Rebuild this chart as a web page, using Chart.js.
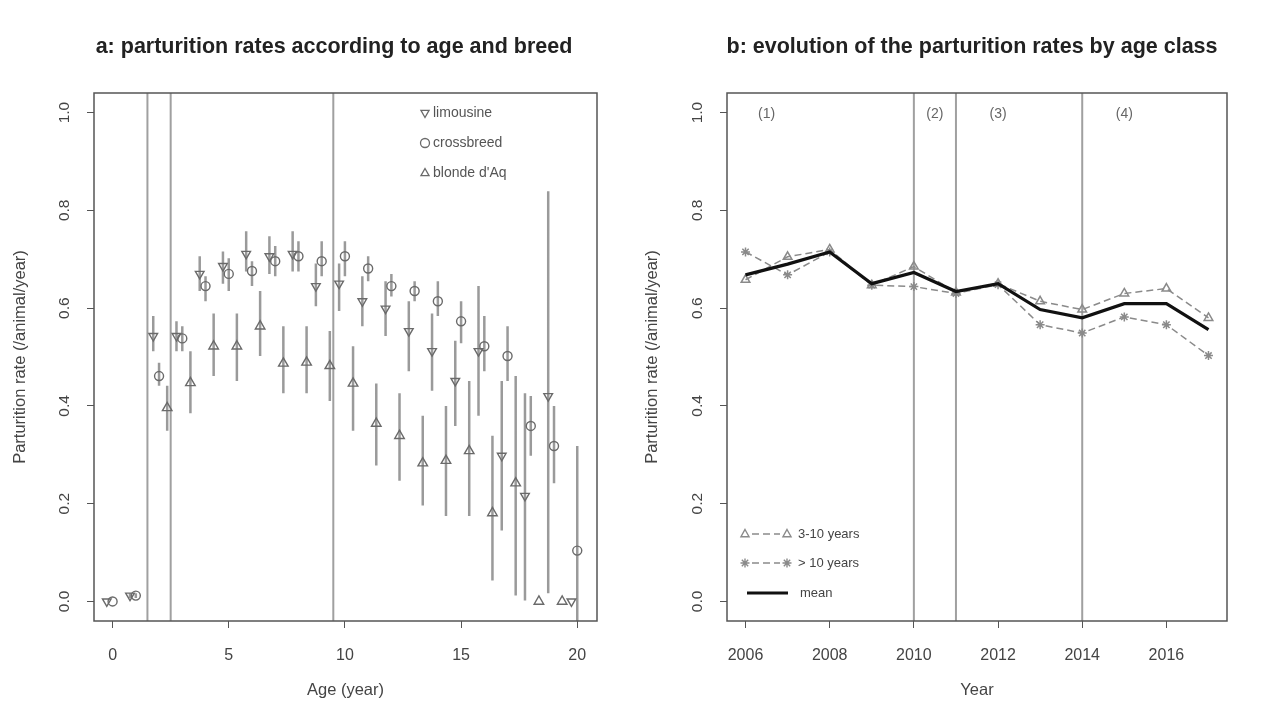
<!DOCTYPE html>
<html>
<head>
<meta charset="utf-8">
<script src="https://cdn.jsdelivr.net/npm/chart.js@4.4.1/dist/chart.umd.min.js"></script>
<style>
body { margin: 0; background: #fff; }
#wrap { position: relative; width: 1268px; height: 711px; }
.panel { position: absolute; top: 0; width: 634px; height: 711px; }
</style>
</head>
<body>
<div id="wrap">
  <div class="panel" style="left:0"><canvas id="chartA" width="634" height="711"></canvas></div>
  <div class="panel" style="left:634px"><canvas id="chartB" width="634" height="711"></canvas></div>
</div>
<script>
// ---- panel a: parturition rate by age and breed ----
const ages = [0, 1, 2, 3, 4, 5, 6, 7, 8, 9, 10, 11, 12, 13, 14, 15, 16, 17, 18, 19, 20];

const limRate  = [0, 0.012, 0.543, 0.543, 0.670, 0.686, 0.711, 0.706, 0.711, 0.645, 0.650, 0.614, 0.599, 0.553, 0.512, 0.451, 0.512, 0.298, 0.216, 0.420, 0];
const limLow   = [0, 0.007, 0.512, 0.512, 0.635, 0.650, 0.675, 0.670, 0.675, 0.604, 0.594, 0.563, 0.543, 0.471, 0.431, 0.359, 0.380, 0.145, 0.002, 0.017, 0];
const limHigh  = [0, 0.017, 0.584, 0.573, 0.706, 0.716, 0.757, 0.747, 0.757, 0.691, 0.691, 0.665, 0.655, 0.614, 0.589, 0.533, 0.645, 0.451, 0.426, 0.839, 0];

const crossRate = [0, 0.012, 0.461, 0.538, 0.645, 0.670, 0.676, 0.696, 0.706, 0.696, 0.706, 0.681, 0.645, 0.635, 0.614, 0.573, 0.522, 0.502, 0.359, 0.318, 0.104];
const crossLow  = [0, 0.007, 0.441, 0.512, 0.614, 0.635, 0.645, 0.665, 0.675, 0.665, 0.665, 0.655, 0.624, 0.614, 0.584, 0.528, 0.471, 0.451, 0.298, 0.242, -0.04];
const crossHigh = [0, 0.017, 0.488, 0.563, 0.665, 0.702, 0.696, 0.727, 0.737, 0.737, 0.737, 0.706, 0.670, 0.655, 0.655, 0.614, 0.584, 0.563, 0.420, 0.400, 0.318];

const blondeRate = [null, null, 0.396, 0.447, 0.522, 0.522, 0.563, 0.487, 0.489, 0.482, 0.446, 0.364, 0.339, 0.283, 0.288, 0.308, 0.181, 0.242, 0, 0, null];
const blondeLow  = [null, null, 0.349, 0.385, 0.461, 0.451, 0.502, 0.426, 0.426, 0.410, 0.349, 0.278, 0.247, 0.196, 0.175, 0.175, 0.043, 0.012, 0, 0, null];
const blondeHigh = [null, null, 0.441, 0.512, 0.589, 0.589, 0.635, 0.563, 0.563, 0.553, 0.522, 0.446, 0.426, 0.380, 0.400, 0.451, 0.339, 0.461, 0, 0, null];

const ageTicks = [0, 5, 10, 15, 20];
const ageBreaks = [1.5, 2.5, 9.5];

// ---- panel b: evolution by age class ----
const years = [2006, 2007, 2008, 2009, 2010, 2011, 2012, 2013, 2014, 2015, 2016, 2017];
const rate3to10 = [0.658, 0.705, 0.72, 0.647, 0.685, 0.632, 0.65, 0.614, 0.597, 0.63, 0.64, 0.58];
const rateOver10 = [0.715, 0.668, 0.715, 0.647, 0.644, 0.63, 0.648, 0.566, 0.549, 0.582, 0.566, 0.503];
const rateMean = [0.668, 0.69, 0.715, 0.65, 0.673, 0.634, 0.65, 0.597, 0.58, 0.609, 0.609, 0.556];
const yearTicks = [2006, 2008, 2010, 2012, 2014, 2016];
const yearBreaks = [2010, 2011, 2014];
const periodLabels = ['(1)', '(2)', '(3)', '(4)'];
const periodAt = [2006.5, 2010.5, 2012, 2015];

const rateTicks = [0, 0.2, 0.4, 0.6, 0.8, 1.0];
const yMin = -0.04, yMax = 1.04;

const FONT = '"Liberation Sans", Arial, sans-serif';
const offLim = -0.25, offCross = 0, offBlonde = 0.35;

function pointsOf(xs, vals, off) {
    const out = [];
    xs.forEach((x, i) => { if (vals[i] !== null) out.push({ x: x + off, y: vals[i] }); });
    return out;
}

function barsOf(xs, vals, lo, hi, off) {
    const out = [];
    xs.forEach((x, i) => {
        if (vals[i] === null) return;
        out.push({ x: x + off, y: lo[i] }, { x: x + off, y: hi[i] }, { x: x + off, y: null });
    });
    return out;
}

function vlines(xs) {
    const out = [];
    xs.forEach(v => out.push({ x: v, y: yMin }, { x: v, y: yMax }, { x: v, y: null }));
    return out;
}

function marker(ctx, style, x, y, r) {
    ctx.beginPath();
    if (style === 'circle') {
        ctx.arc(x, y, r, 0, Math.PI * 2);
    } else if (style === 'triangle' || style === 'down') {
        const s = style === 'down' ? -1 : 1;
        ctx.moveTo(x, y - s * r);
        ctx.lineTo(x + r * 0.9, y + s * r * 0.6);
        ctx.lineTo(x - r * 0.9, y + s * r * 0.6);
        ctx.closePath();
    } else if (style === 'star') {
        for (let k = 0; k < 4; k++) {
            const a = k * Math.PI / 4;
            ctx.moveTo(x - Math.cos(a) * r, y - Math.sin(a) * r);
            ctx.lineTo(x + Math.cos(a) * r, y + Math.sin(a) * r);
        }
    }
    ctx.stroke();
}

function panelPlugin(cfg) {
    return {
        id: 'panel_' + cfg.name,
        afterDraw(chart) {
            const { ctx, chartArea: a, scales } = chart;
            ctx.save();
            ctx.strokeStyle = '#555';
            ctx.lineWidth = 1.5;
            ctx.strokeRect(a.left, a.top, a.right - a.left, a.bottom - a.top);

            ctx.textAlign = 'center';
            ctx.textBaseline = 'middle';
            ctx.fillStyle = '#222';
            ctx.font = 'bold 21.5px ' + FONT;
            ctx.fillText(cfg.title, cfg.titleX, 47);

            ctx.fillStyle = '#444';
            ctx.font = '16.5px ' + FONT;
            ctx.fillText(cfg.xTitle, (a.left + a.right) / 2, 690);
            ctx.save();
            ctx.translate(cfg.yTitleX, (a.top + a.bottom) / 2);
            ctx.rotate(-Math.PI / 2);
            ctx.fillText(cfg.yTitle, 0, 0);
            ctx.restore();

            ctx.font = '15.5px ' + FONT;
            scales.y.ticks.forEach(t => {
                const py = scales.y.getPixelForValue(t.value);
                ctx.save();
                ctx.translate(cfg.yTickX, py);
                ctx.rotate(-Math.PI / 2);
                ctx.fillText(t.value.toFixed(1), 0, 0);
                ctx.restore();
            });

            cfg.extra(chart, ctx);
            ctx.restore();
        }
    };
}

function axisOptions(xmin, xmax, xticks) {
    return {
        x: {
            type: 'linear', min: xmin, max: xmax,
            afterBuildTicks: s => { s.ticks = xticks.map(v => ({ value: v })); },
            afterFit: s => { s.height = 50; },
            grid: { display: true, drawOnChartArea: false, drawTicks: true, tickLength: 7, color: '#555' },
            border: { display: false },
            ticks: { color: '#444', font: { size: 16, family: FONT }, padding: 18, maxRotation: 0, callback: v => String(v) }
        },
        y: {
            type: 'linear', min: yMin, max: yMax,
            afterBuildTicks: s => { s.ticks = rateTicks.map(v => ({ value: v })); },
            afterFit: s => { s.width = 60; },
            grid: { display: true, drawOnChartArea: false, drawTicks: true, tickLength: 7, color: '#555' },
            border: { display: false },
            ticks: { color: 'rgba(0,0,0,0)', font: { size: 14, family: FONT } }
        }
    };
}

const GREY = '#6a6a6a';
const BAR = '#9a9a9a';

new Chart(document.getElementById('chartA'), {
    type: 'scatter',
    data: {
        datasets: [
            { data: pointsOf(ages, limRate, offLim), pointStyle: 'triangle', rotation: 180, pointRadius: 5, borderColor: GREY, backgroundColor: 'rgba(0,0,0,0)', borderWidth: 1.4, order: 1 },
            { data: pointsOf(ages, crossRate, offCross), pointStyle: 'circle', pointRadius: 4.5, borderColor: GREY, backgroundColor: 'rgba(0,0,0,0)', borderWidth: 1.4, order: 1 },
            { data: pointsOf(ages, blondeRate, offBlonde), pointStyle: 'triangle', pointRadius: 5.5, borderColor: GREY, backgroundColor: 'rgba(0,0,0,0)', borderWidth: 1.4, order: 1 },
            { data: barsOf(ages, limRate, limLow, limHigh, offLim), showLine: true, spanGaps: false, pointRadius: 0, borderColor: BAR, borderWidth: 2.5, order: 2 },
            { data: barsOf(ages, crossRate, crossLow, crossHigh, offCross), showLine: true, spanGaps: false, pointRadius: 0, borderColor: BAR, borderWidth: 2.5, order: 2 },
            { data: barsOf(ages, blondeRate, blondeLow, blondeHigh, offBlonde), showLine: true, spanGaps: false, pointRadius: 0, borderColor: BAR, borderWidth: 2.5, order: 2 },
            { data: vlines(ageBreaks), showLine: true, spanGaps: false, pointRadius: 0, borderColor: '#a0a0a0', borderWidth: 2, order: 3 }
        ]
    },
    options: {
        responsive: false,
        animation: false,
        events: [],
        layout: { padding: { left: 34, right: 37, top: 93, bottom: 40 } },
        plugins: { legend: { display: false }, tooltip: { enabled: false } },
        scales: axisOptions(-0.8, 20.85, ageTicks)
    },
    plugins: [panelPlugin({
        name: 'a',
        title: 'a: parturition rates according to age and breed',
        titleX: 334,
        xTitle: 'Age (year)',
        yTitle: 'Parturition rate (/animal/year)',
        yTitleX: 20,
        yTickX: 65,
        extra: (chart, ctx) => {
            const rows = [['down', 'limousine'], ['circle', 'crossbreed'], ['triangle', "blonde d'Aq"]];
            ctx.font = '14px ' + FONT;
            ctx.textAlign = 'left';
            rows.forEach((r, i) => {
                const y = 113 + i * 30;
                ctx.strokeStyle = GREY;
                ctx.lineWidth = 1.3;
                marker(ctx, r[0], 425, y, 4.5);
                ctx.fillStyle = '#555';
                ctx.fillText(r[1], 433, y);
            });
        }
    })]
});

new Chart(document.getElementById('chartB'), {
    type: 'scatter',
    data: {
        datasets: [
            { data: years.map((y, i) => ({ x: y, y: rateMean[i] })), showLine: true, pointRadius: 0, borderColor: '#111', borderWidth: 3.2, order: 1 },
            { data: years.map((y, i) => ({ x: y, y: rate3to10[i] })), showLine: true, pointStyle: 'triangle', pointRadius: 5, borderColor: '#8a8a8a', backgroundColor: 'rgba(0,0,0,0)', borderWidth: 1.5, borderDash: [7, 4], order: 2 },
            { data: years.map((y, i) => ({ x: y, y: rateOver10[i] })), showLine: true, pointStyle: 'star', pointRadius: 4.5, borderColor: '#8a8a8a', backgroundColor: 'rgba(0,0,0,0)', borderWidth: 1.5, borderDash: [7, 4], order: 2 },
            { data: vlines(yearBreaks), showLine: true, spanGaps: false, pointRadius: 0, borderColor: '#a0a0a0', borderWidth: 2, order: 3 }
        ]
    },
    options: {
        responsive: false,
        animation: false,
        events: [],
        layout: { padding: { left: 33, right: 41, top: 93, bottom: 40 } },
        plugins: { legend: { display: false }, tooltip: { enabled: false } },
        scales: axisOptions(2005.56, 2017.44, yearTicks)
    },
    plugins: [panelPlugin({
        name: 'b',
        title: 'b: evolution of the parturition rates by age class',
        titleX: 338,
        xTitle: 'Year',
        yTitle: 'Parturition rate (/animal/year)',
        yTitleX: 18,
        yTickX: 64,
        extra: (chart, ctx) => {
            const xs = chart.scales.x;
            ctx.font = '14px ' + FONT;
            ctx.fillStyle = '#666';
            ctx.textAlign = 'center';
            periodLabels.forEach((t, i) => ctx.fillText(t, xs.getPixelForValue(periodAt[i]), 114));

            ctx.textAlign = 'left';
            ctx.font = '13px ' + FONT;
            const rows = [['triangle', '3-10 years', 534], ['star', '> 10 years', 563]];
            rows.forEach(r => {
                ctx.strokeStyle = '#8a8a8a';
                ctx.lineWidth = 1.4;
                marker(ctx, r[0], 111, r[2], 4.5);
                marker(ctx, r[0], 153, r[2], 4.5);
                ctx.beginPath();
                ctx.setLineDash([7, 4]);
                ctx.moveTo(118, r[2]);
                ctx.lineTo(146, r[2]);
                ctx.stroke();
                ctx.setLineDash([]);
                ctx.fillStyle = '#444';
                ctx.fillText(r[1], 164, r[2]);
            });
            ctx.strokeStyle = '#111';
            ctx.lineWidth = 3.2;
            ctx.beginPath();
            ctx.moveTo(113, 593);
            ctx.lineTo(154, 593);
            ctx.stroke();
            ctx.fillStyle = '#444';
            ctx.fillText('mean', 166, 593);
        }
    })]
});
</script>
</body>
</html>
